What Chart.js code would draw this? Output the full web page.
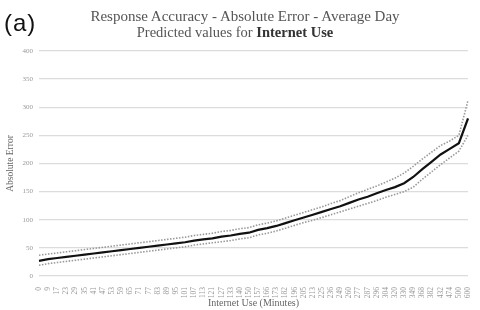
<!DOCTYPE html>
<html>
<head>
<meta charset="utf-8">
<script src="https://cdn.jsdelivr.net/npm/chart.js@4"></script>
<style>
  body { margin: 0; background: #fff; }
  #wrap { position: relative; width: 480px; height: 310px; overflow: hidden; }
  #tag { position: absolute; left: 4px; top: 9px; font: 24px "Liberation Sans", Arial, sans-serif; color: #111; letter-spacing: 1px; }
  #t1 { position: absolute; left: 0; width: 490px; top: 8px; text-align: center; font: 15px "Liberation Serif", "Times New Roman", serif; color: #555; }
  #t2 { position: absolute; left: 0; width: 470px; top: 24px; text-align: center; font: 14.5px "Liberation Serif", "Times New Roman", serif; color: #555; }
  #t2 b { color: #333; }
</style>
</head>
<body>
<div id="wrap">
  <canvas id="myChart" width="480" height="310"></canvas>
  <div id="tag">(a)</div>
  <div id="t1">Response Accuracy - Absolute Error - Average Day</div>
  <div id="t2">Predicted values for <b>Internet Use</b></div>
</div>
<script>
// x tick labels (minutes)
const minutes = ["0","9","17","23","29","35","41","47","53","59","65","71","77","83","89","95",
  "101","107","113","121","127","133","140","150","157","166","173","182","196","205","213","225",
  "236","249","260","277","287","296","304","320","330","349","368","382","432","474","500","600"];

// predicted absolute error
const predicted = [27,30,32,34,36,38,40,42,44,46,48,50,52,54,56,58,
  60,63,65,67,70,72,75,77,82,85,89,94,99,104,109,114,
  119,124,130,136,141,147,153,158,165,176,190,203,216,226,236,280];

// confidence band
const upper = [37,39,41,43,45,47,49,51,53,55,57,59,61,63,65,67,
  69,72,74,76,79,81,84,86,91,94,98,103,108,113,118,123,
  129,134,141,148,154,160,167,174,183,195,208,220,232,240,250,312];
const lower = [19,22,24,26,28,30,32,34,36,38,40,42,44,46,48,50,
  52,55,57,59,61,63,66,68,73,76,80,85,90,95,99,104,
  109,114,119,124,129,134,140,145,150,158,172,185,198,210,222,250];

const yTicks = { min: 0, max: 400, step: 50 };

const serif = "'Liberation Serif', 'Times New Roman', serif";

const config = {
  type: 'line',
  data: {
    labels: minutes,
    datasets: [
      { data: predicted, borderColor: '#111', borderWidth: 2.2, pointRadius: 0, tension: 0 },
      { data: upper, borderColor: '#999', borderWidth: 1.6, borderDash: [1.5, 1.5], pointRadius: 0, tension: 0 },
      { data: lower, borderColor: '#999', borderWidth: 1.6, borderDash: [1.5, 1.5], pointRadius: 0, tension: 0 }
    ]
  },
  options: {
    responsive: false,
    animation: false,
    layout: { padding: { top: 51, left: 5, right: 0, bottom: 0 } },
    plugins: { legend: { display: false }, tooltip: { enabled: false } },
    scales: {
      x: {
        afterFit: (s) => { s.height = 34; },
        grid: { display: false },
        border: { display: false },
        ticks: {
          autoSkip: false, maxRotation: 90, minRotation: 90,
          color: '#999', font: { family: serif, size: 7.5 }, padding: 3
        },
        title: { display: true, text: 'Internet Use (Minutes)', color: '#666', font: { family: serif, size: 10 }, padding: { top: 0, bottom: 1 } }
      },
      y: {
        min: yTicks.min, max: yTicks.max,
        afterFit: (s) => { s.width = 34; },
        grid: { color: '#dcdcdc', lineWidth: 1.3, drawTicks: false },
        border: { display: false },
        ticks: { stepSize: yTicks.step, color: '#999', font: { family: serif, size: 7 }, padding: 6 },
        title: { display: true, text: 'Absolute Error', color: '#666', font: { family: serif, size: 9.5 }, padding: { top: 0, bottom: 0 } }
      }
    }
  }
};

const myChart = new Chart(document.getElementById('myChart'), config);
</script>
</body>
</html>
